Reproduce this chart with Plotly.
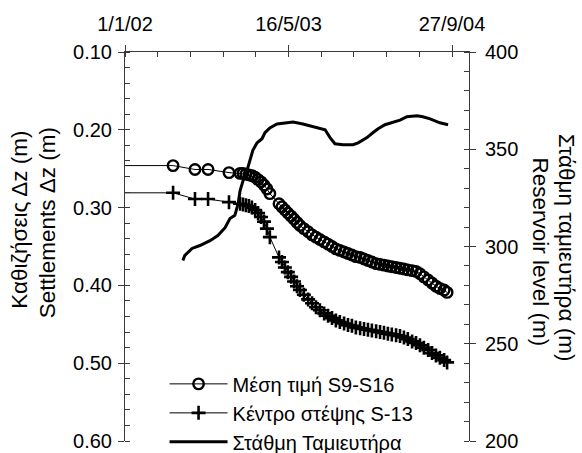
import plotly.graph_objects as go

# ---------------- data ----------------
survey_dates = [
    "2001-09-01", "2002-05-28", "2002-08-03", "2002-09-12", "2002-11-15", "2002-12-19",
    "2002-12-28", "2003-01-06", "2003-01-15", "2003-01-24", "2003-02-03", "2003-02-12",
    "2003-02-21", "2003-03-02", "2003-03-11", "2003-03-20", "2003-04-17", "2003-04-26",
    "2003-05-05", "2003-05-14", "2003-05-24", "2003-06-02", "2003-06-11", "2003-06-20",
    "2003-07-02", "2003-07-15", "2003-07-27", "2003-08-08", "2003-08-20", "2003-09-02",
    "2003-09-14", "2003-09-26", "2003-10-08", "2003-10-20", "2003-11-02", "2003-11-14",
    "2003-11-26", "2003-12-08", "2003-12-21", "2004-01-02", "2004-01-14", "2004-01-26",
    "2004-02-08", "2004-02-20", "2004-03-03", "2004-03-15", "2004-03-27", "2004-04-09",
    "2004-04-21", "2004-05-03", "2004-05-15", "2004-05-28", "2004-06-09", "2004-06-21",
    "2004-07-03", "2004-07-16", "2004-07-28", "2004-08-09", "2004-08-21", "2004-09-03",
    "2004-09-12",
]
mean_s9_s16 = [
    0.246, 0.246, 0.251, 0.251, 0.255, 0.256,
    0.256, 0.257, 0.258, 0.259, 0.261, 0.264,
    0.267, 0.271, 0.276, 0.282, 0.295, 0.299,
    0.303, 0.307, 0.311, 0.315, 0.319, 0.323,
    0.327, 0.331, 0.335, 0.338, 0.341, 0.344,
    0.347, 0.350, 0.353, 0.355, 0.357, 0.359,
    0.361, 0.363, 0.364, 0.366, 0.368, 0.370,
    0.372, 0.373, 0.374, 0.375, 0.376, 0.377,
    0.378, 0.379, 0.380, 0.381, 0.382, 0.385,
    0.389, 0.393, 0.397, 0.401, 0.404, 0.406,
    0.409,
]
crest_s13 = [
    0.281, 0.281, 0.289, 0.289, 0.293, 0.295,
    0.296, 0.297, 0.298, 0.300, 0.303, 0.307,
    0.312, 0.318, 0.327, 0.338, 0.364, 0.370,
    0.377, 0.383, 0.389, 0.395, 0.401, 0.406,
    0.412, 0.418, 0.423, 0.428, 0.432, 0.436,
    0.439, 0.442, 0.445, 0.447, 0.449, 0.451,
    0.452, 0.454, 0.455, 0.456, 0.457, 0.458,
    0.459, 0.460, 0.461, 0.462, 0.463, 0.464,
    0.465, 0.467, 0.469, 0.472, 0.474, 0.477,
    0.480, 0.483, 0.487, 0.490, 0.493, 0.496,
    0.499,
]
reservoir_dates = [
    "2002-06-27", "2002-07-03", "2002-07-25", "2002-08-18", "2002-09-18", "2002-10-12",
    "2002-11-03", "2002-11-18", "2002-12-03", "2002-12-13", "2002-12-19", "2002-12-28",
    "2003-01-09", "2003-01-18", "2003-01-27", "2003-02-09", "2003-02-24", "2003-03-05",
    "2003-03-20", "2003-04-11", "2003-05-05", "2003-05-30", "2003-06-29", "2003-07-30",
    "2003-09-05", "2003-09-20", "2003-10-05", "2003-10-30", "2003-11-29", "2003-12-15",
    "2004-01-11", "2004-01-29", "2004-02-14", "2004-03-06", "2004-03-31", "2004-04-21",
    "2004-05-12", "2004-06-12", "2004-06-30", "2004-07-22", "2004-08-21", "2004-09-15",
]
reservoir_level = [
    292.8, 295.4, 299.0, 300.5, 303.0, 305.6,
    309.7, 314.4, 316.0, 322.0, 328.7, 333.8,
    339.0, 345.0, 349.5, 353.3, 355.4, 358.5,
    361.0, 363.0, 363.6, 364.0, 363.0, 361.5,
    360.0, 356.0, 352.8, 352.3, 352.3, 353.3,
    356.0, 358.5, 360.5, 362.6, 364.0, 365.0,
    366.7, 367.2, 366.7, 365.6, 363.6, 362.6,
]
x_tick_vals = ["2002-01-01", "2003-05-16", "2004-09-27"]
x_tick_text = ["1/1/02", "16/5/03", "27/9/04"]
x_range = ["2002-01-01", "2004-11-18"]
y_left_ticks = [0.10, 0.20, 0.30, 0.40, 0.50, 0.60]
y_right_ticks = [200, 250, 300, 350, 400]

names = ["Μέση τιμή S9-S16", "Κέντρο στέψης S-13", "Στάθμη Ταμιευτήρα"]

# ---------------- figure ----------------
FONT = "Arial, 'Liberation Sans', sans-serif"
AX = "#3a3a3a"
DAY_MS = 86400000
FS = 20
FS_LEGEND = 20
FS_TITLE = 22.5

fig = go.Figure()
fig.add_trace(go.Scatter(
    x=survey_dates, y=mean_s9_s16, name=names[0], mode="lines+markers",
    line=dict(color="black", width=1),
    marker=dict(symbol="circle-open", size=10.5, color="black", line=dict(width=2.4, color="black")),
    xaxis="x", yaxis="y", legendgroup="a",
))
fig.add_trace(go.Scatter(
    x=survey_dates, y=crest_s13, name=names[1], mode="lines+markers",
    line=dict(color="black", width=1),
    marker=dict(symbol="cross-thin", size=10, color="black", line=dict(width=2.6, color="black")),
    xaxis="x", yaxis="y", legendgroup="b",
))
fig.add_trace(go.Scatter(
    x=reservoir_dates, y=reservoir_level, name=names[2], mode="lines",
    line=dict(color="black", width=3),
    xaxis="x", yaxis="y2", legendgroup="c",
))

tickfont = dict(family=FONT, size=FS, color="black")

fig.update_layout(
    width=582, height=453,
    margin=dict(l=125, r=113, t=52, b=12, autoexpand=False),
    paper_bgcolor="white", plot_bgcolor="white",
    font=dict(family=FONT, size=FS, color="black"),
    showlegend=True,
    legend=dict(
        x=0.115, y=0.197, xanchor="left", yanchor="top",
        bgcolor="rgba(0,0,0,0)", borderwidth=0,
        font=dict(family=FONT, size=FS_LEGEND, color="black"),
        itemwidth=58, traceorder="grouped", tracegroupgap=0,
    ),
    xaxis=dict(
        type="date", side="top", range=x_range, anchor="y", automargin=False,
        tickvals=x_tick_vals, ticktext=x_tick_text, tickfont=tickfont,
        ticks="outside", ticklen=6, tickwidth=1, tickcolor=AX,
        ticklabelstandoff=6,
        minor=dict(ticks="inside", ticklen=5, tickwidth=1, tickcolor=AX,
                   tick0="2002-01-01", dtick=100 * DAY_MS, showgrid=False),
        showline=True, linecolor=AX, linewidth=1, mirror=False,
        showgrid=False, zeroline=False,
    ),
    xaxis3=dict(
        type="date", side="top", range=x_range, overlaying="x", anchor="y",
        tickvals=x_tick_vals, showticklabels=False, automargin=False,
        ticks="inside", ticklen=5, tickwidth=1, tickcolor=AX,
        showline=False, showgrid=False, zeroline=False,
    ),
    yaxis=dict(
        range=[0.60, 0.10], tickvals=y_left_ticks, tickformat=".2f", automargin=False,
        tickfont=tickfont, ticks="outside", ticklen=6, tickwidth=1, tickcolor=AX,
        ticklabelstandoff=2,
        minor=dict(ticks="inside", ticklen=5, tickwidth=1, tickcolor=AX,
                   tick0=0.10, dtick=0.02, showgrid=False),
        showline=True, linecolor=AX, linewidth=1,
        showgrid=False, zeroline=False, anchor="x",
    ),
    yaxis3=dict(
        range=[0.60, 0.10], tickvals=y_left_ticks, overlaying="y", side="left", anchor="x",
        showticklabels=False, ticks="inside", ticklen=5, tickwidth=1, tickcolor=AX,
        showline=False, showgrid=False, zeroline=False, automargin=False,
    ),
    yaxis2=dict(
        range=[200, 400], tickvals=y_right_ticks, overlaying="y", side="right", anchor="x",
        tickfont=tickfont, ticks="outside", ticklen=6, tickwidth=1, tickcolor=AX,
        ticklabelstandoff=5, automargin=False,
        minor=dict(ticks="inside", ticklen=5, tickwidth=1, tickcolor=AX,
                   tick0=200, dtick=10, showgrid=False),
        showline=True, linecolor=AX, linewidth=1,
        showgrid=False, zeroline=False,
    ),
    yaxis4=dict(
        range=[200, 400], tickvals=y_right_ticks, overlaying="y", side="right", anchor="x",
        showticklabels=False, ticks="inside", ticklen=5, tickwidth=1, tickcolor=AX,
        showline=False, showgrid=False, zeroline=False, automargin=False,
    ),
)

title_font = dict(family=FONT, size=FS_TITLE, color="black")
anns = [
    ("Καθιζήσεις Δz (m)", -0.305, 0.569, -90),
    ("Settlements Δz (m)", -0.227, 0.562, -90),
    ("Στάθμη ταμιευτήρα (m)", 1.282, 0.497, 90),
    ("Reservoir level (m)", 1.209, 0.485, 90),
]
for text, ax_, ay_, ang in anns:
    fig.add_annotation(text=text, xref="paper", yref="paper", x=ax_, y=ay_,
                       xanchor="center", yanchor="middle", textangle=ang,
                       showarrow=False, font=title_font)

fig.write_html(
    "out.html",
    config={"displayModeBar": False},
    post_script="document.body.style.margin='0';document.body.style.overflow='hidden';",
)
